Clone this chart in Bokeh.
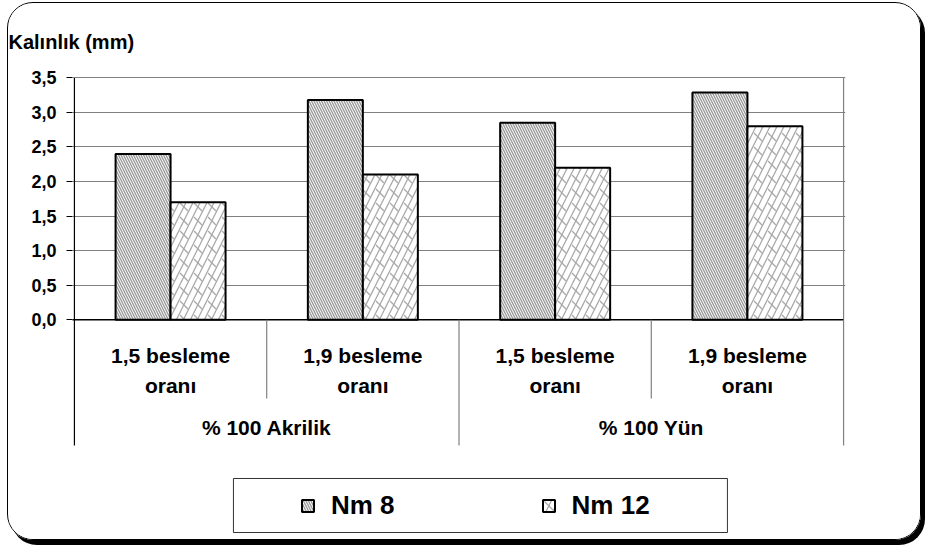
from bokeh.plotting import figure
from bokeh.models import Range1d, FixedTicker, Legend, LegendItem, BoxAnnotation
from bokeh.embed import file_html
from bokeh.resources import INLINE
from bokeh.core.properties import value

# ---------------- data ----------------
groups = ["% 100 Akrilik", "% 100 Yün"]
feed_ratios = ["1,5 besleme", "1,9 besleme"]
feed_suffix = "oranı"
series_names = ["Nm 8", "Nm 12"]
nm8 = [2.40, 3.18, 2.85, 3.29]
nm12 = [1.70, 2.10, 2.20, 2.80]
y_ticks = [0.0, 0.5, 1.0, 1.5, 2.0, 2.5, 3.0, 3.5]
y_tick_labels = ["0,0", "0,5", "1,0", "1,5", "2,0", "2,5", "3,0", "3,5"]
y_title = "Kalınlık (mm)"

# ---------------- derived ----------------
n_sub = len(feed_ratios)
n_cat = len(groups) * n_sub
cat_centers = [i + 0.5 for i in range(n_cat)]
sub_line1 = [feed_ratios[i % n_sub] for i in range(n_cat)]
sub_line2 = [feed_suffix] * n_cat
group_centers = [g * n_sub + n_sub / 2 for g in range(len(groups))]
bar_w = 0.286
x8 = [c - bar_w / 2 for c in cat_centers]
x12 = [c + bar_w / 2 for c in cat_centers]
y_max = y_ticks[-1]

FONT = "Liberation Sans"
GRID = "#808080"

p = figure(
    width=914, height=538,
    x_range=Range1d(-0.01, n_cat + 0.01),
    y_range=Range1d(-3.210, y_max + 0.02),
    x_axis_location=None,
    output_backend="svg", toolbar_location=None,
    min_border_left=64, min_border_right=77, min_border_top=73, min_border_bottom=0,
)
p.outline_line_color = None
p.background_fill_color = "white"
p.border_fill_color = "white"
p.styles = {
    "margin-left": "7px",
    "margin-top": "2px",
    "border": "1px solid black",
    "border-radius": "26px",
    "box-shadow": "4px 5px 0px 0px black",
    "overflow": "hidden",
}

# title (y-axis caption, top-left)
p.title.text = y_title
p.title.align = "left"
p.title.offset = -64
p.title.standoff = 47
p.title.text_font = FONT
p.title.text_font_style = "bold"
p.title.text_font_size = "20px"
p.title.text_color = "black"

# y axis
ax = p.yaxis[0]
ax.ticker = FixedTicker(ticks=y_ticks)
ax.major_label_overrides = {t: l for t, l in zip(y_ticks, y_tick_labels)}
ax.axis_line_color = None
ax.major_tick_in = 0
ax.major_tick_out = 6
ax.major_tick_line_color = "black"
ax.minor_tick_line_color = None
ax.major_label_standoff = 10
ax.major_label_text_font = FONT
ax.major_label_text_font_style = "bold"
ax.major_label_text_font_size = "18px"
ax.major_label_text_color = "black"

p.xgrid.visible = False
p.ygrid.ticker = FixedTicker(ticks=y_ticks[1:])
p.ygrid.grid_line_color = GRID
p.ygrid.grid_line_width = 1.2

# right border of plot area
p.segment(x0=[n_cat], y0=[0], x1=[n_cat], y1=[y_max], line_color=GRID, line_width=1.2)

# bars
r8 = p.vbar(x=x8, top=nm8, bottom=0, width=bar_w, fill_color="white",
            hatch_pattern="left_diagonal_line", hatch_color="#9a9a9a", hatch_scale=5,
            hatch_weight=1.4, line_color="black", line_width=2)
r12a = p.vbar(x=x12, top=nm12, bottom=0, width=bar_w, fill_color="white",
              hatch_pattern="right_diagonal_line", hatch_color="#a8a8a8", hatch_scale=14,
              hatch_weight=1.3, line_color=None)
r12b = p.vbar(x=x12, top=nm12, bottom=0, width=bar_w, fill_alpha=0,
              hatch_pattern="left_diagonal_dash", hatch_color="#a8a8a8", hatch_scale=14,
              hatch_weight=1.3, line_color="black", line_width=2)

# axis lines / category separators
label_bottom_sub = -1.14
label_bottom_grp = -1.82
p.segment(x0=[0], y0=[y_max], x1=[0], y1=[label_bottom_grp], line_color="black", line_width=1.2)
p.segment(x0=[-0.03], y0=[0], x1=[n_cat], y1=[0], line_color="black", line_width=1.5)
sub_sep = [i for i in range(1, n_cat) if i % n_sub != 0]
grp_sep = [g * n_sub for g in range(1, len(groups) + 1)]
p.segment(x0=sub_sep, y0=[0] * len(sub_sep), x1=sub_sep, y1=[label_bottom_sub] * len(sub_sep),
          line_color=GRID, line_width=1.2)
p.segment(x0=grp_sep, y0=[0] * len(grp_sep), x1=grp_sep, y1=[label_bottom_grp] * len(grp_sep),
          line_color=GRID, line_width=1.2)

# category labels
common = dict(text_font=value(FONT), text_font_style="bold", text_color="black",
              text_align="center", text_baseline="middle")
p.text(x=cat_centers, y=[-0.519] * n_cat, text=sub_line1, text_font_size="21px", **common)
p.text(x=cat_centers, y=[-0.953] * n_cat, text=sub_line2, text_font_size="21px", **common)
p.text(x=group_centers, y=[-1.566] * len(groups), text=groups, text_font_size="21px", **common)

# legend frame
p.add_layout(BoxAnnotation(left=0.827, right=3.396, bottom=-3.080, top=-2.298,
                           fill_color="white", fill_alpha=1, line_color="black",
                           line_width=1, line_alpha=0.8, level="underlay"))

legend = Legend(items=[LegendItem(label=series_names[0], renderers=[r8]),
                       LegendItem(label=series_names[1], renderers=[r12a, r12b])],
                orientation="horizontal", location=(228, 20),
                padding=10, spacing=146, label_standoff=16,
                glyph_width=15, glyph_height=15,
                label_text_font=FONT, label_text_font_style="bold",
                label_text_font_size="26px", label_text_color="black",
                border_line_color=None, background_fill_alpha=0)
p.add_layout(legend, "center")

open("out.html", "w").write(file_html(p, INLINE))
